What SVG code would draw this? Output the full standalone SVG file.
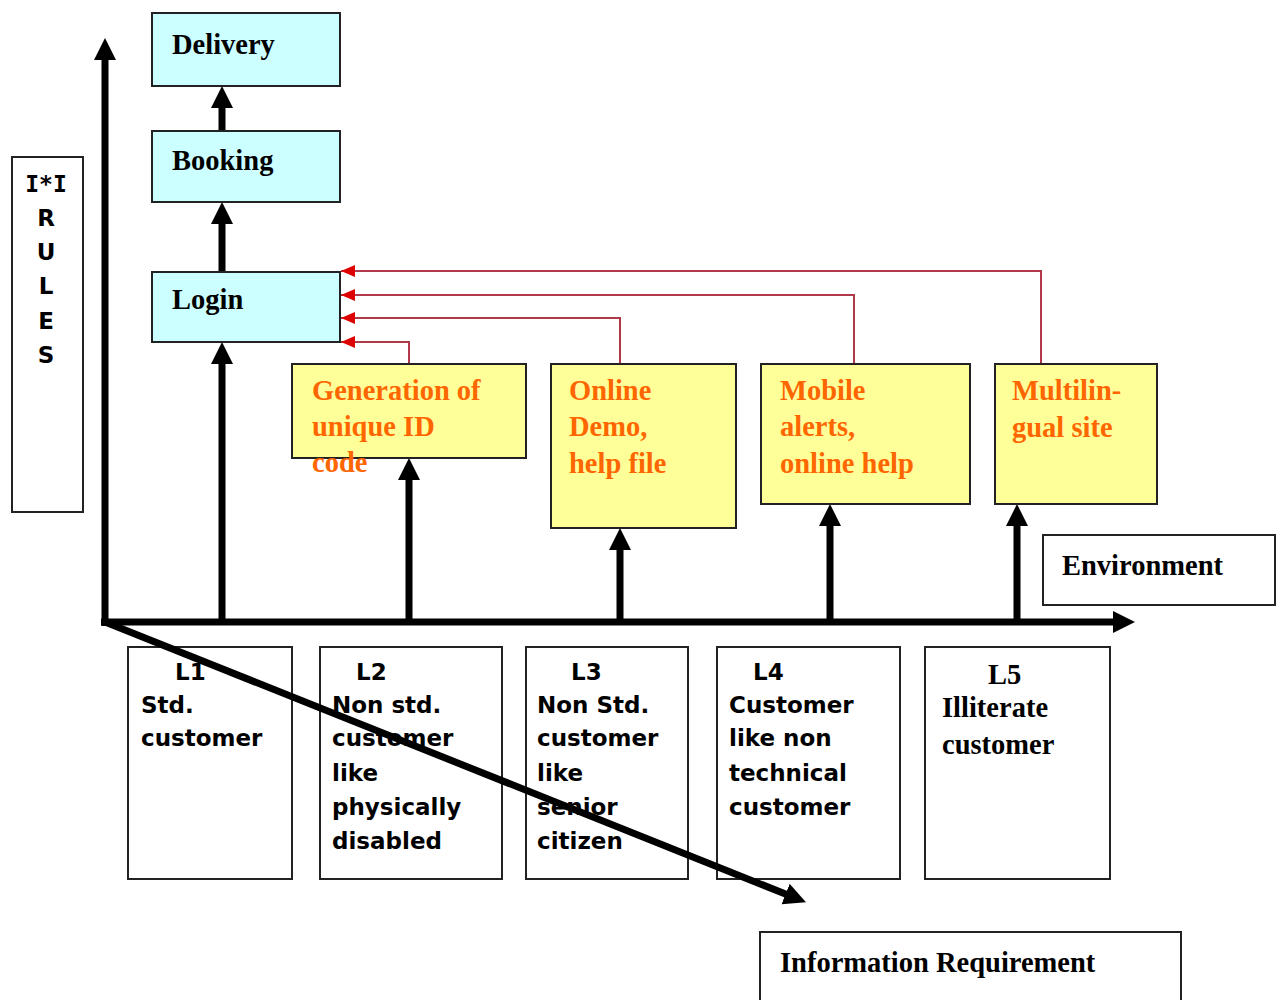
<svg xmlns="http://www.w3.org/2000/svg" width="1282" height="1000" viewBox="0 0 1282 1000">
<style>
.box{stroke:#222;stroke-width:2}
.cy{fill:#ccffff}
.ye{fill:#ffff99}
.wh{fill:#fff}
.ser{font-family:"Liberation Serif","Times New Roman",serif;font-weight:bold;font-size:28.5px;fill:#000}
.or{fill:#ff6600}
.san{font-family:"DejaVu Sans",Verdana,sans-serif;font-weight:bold;font-size:23px;fill:#000}
.mono{font-family:"DejaVu Sans Mono",monospace;font-weight:bold;font-size:23px;fill:#000}
.ax{stroke:#000;stroke-width:7;fill:none;marker-end:url(#blk)}
.red{stroke:#b03a4a;stroke-width:2;fill:none;marker-end:url(#rd)}
</style>
<defs>
<marker id="blk" markerUnits="userSpaceOnUse" markerWidth="24" markerHeight="24" refX="8" refY="11" orient="auto" viewBox="0 0 24 24">
<path d="M0,0 L22,11 L0,22 z" fill="#000"/>
</marker>
<marker id="rd" markerUnits="userSpaceOnUse" markerWidth="16" markerHeight="14" refX="14" refY="6" orient="auto" viewBox="0 0 16 14">
<path d="M0,0 L14,6 L0,12 z" fill="#dd0000"/>
</marker>
</defs>
<rect width="1282" height="1000" fill="#fff"/>

<g id="rules">
<rect class="box wh" x="12" y="157" width="71" height="355"/>
<text class="mono" x="46" y="192" text-anchor="middle">I*I</text>
<g class="san" text-anchor="middle">
<text x="46" y="226">R</text>
<text x="46" y="260">U</text>
<text x="46" y="294">L</text>
<text x="46" y="329">E</text>
<text x="46" y="363">S</text>
</g>
</g>

<g id="L1"><rect class="box wh" x="128" y="647" width="164" height="232"/>
<text class="san" x="175" y="680">L1</text>
<text class="san" x="141" y="713">Std.</text>
<text class="san" x="141" y="746">customer</text></g>

<g id="L2"><rect class="box wh" x="320" y="647" width="182" height="232"/>
<text class="san" x="356" y="680">L2</text>
<text class="san" x="332" y="713">Non std.</text>
<text class="san" x="332" y="746">customer</text>
<text class="san" x="332" y="781">like</text>
<text class="san" x="332" y="815">physically</text>
<text class="san" x="332" y="849">disabled</text></g>

<g id="L3"><rect class="box wh" x="526" y="647" width="162" height="232"/>
<text class="san" x="571" y="680">L3</text>
<text class="san" x="537" y="713">Non Std.</text>
<text class="san" x="537" y="746">customer</text>
<text class="san" x="537" y="781">like</text>
<text class="san" x="537" y="815">senior</text>
<text class="san" x="537" y="849">citizen</text></g>

<g id="L4"><rect class="box wh" x="717" y="647" width="183" height="232"/>
<text class="san" x="753" y="680">L4</text>
<text class="san" x="729" y="713">Customer</text>
<text class="san" x="729" y="746">like non</text>
<text class="san" x="729" y="781">technical</text>
<text class="san" x="729" y="815">customer</text></g>

<g id="L5"><rect class="box wh" x="925" y="647" width="185" height="232"/>
<text class="ser" x="988" y="684">L5</text>
<text class="ser" x="942" y="717">Illiterate</text>
<text class="ser" x="942" y="754">customer</text></g>

<g id="environment"><rect class="box wh" x="1043" y="535" width="232" height="70"/>
<text class="ser" x="1062" y="575">Environment</text></g>

<g id="info"><rect class="box wh" x="760" y="932" width="421" height="80"/>
<text class="ser" x="780" y="972">Information Requirement</text></g>

<g id="connectors">
<path class="ax" d="M105,626 V52"/>
<path class="ax" d="M101,622 H1121"/>
<path class="ax" d="M105,622 L793,897"/>
<path class="ax" d="M222,131 V100"/>
<path class="ax" d="M222,272 V216"/>
<path class="ax" d="M222,622 V356"/>
<path class="ax" d="M409,622 V472"/>
<path class="ax" d="M620,622 V542"/>
<path class="ax" d="M830,622 V518"/>
<path class="ax" d="M1017,622 V518"/>
<path class="red" d="M409,364 V342 H341"/>
<path class="red" d="M620,364 V318 H341"/>
<path class="red" d="M854,364 V295 H341"/>
<path class="red" d="M1041,364 V271 H341"/>
</g>

<g id="delivery"><rect class="box cy" x="152" y="13" width="188" height="73"/>
<text class="ser" x="172" y="54">Delivery</text></g>
<g id="booking"><rect class="box cy" x="152" y="131" width="188" height="71"/>
<text class="ser" x="172" y="170">Booking</text></g>
<g id="login"><rect class="box cy" x="152" y="272" width="188" height="70"/>
<text class="ser" x="172" y="309">Login</text></g>

<g id="generation"><rect class="box ye" x="292" y="364" width="234" height="94"/>
<text class="ser or" x="312" y="400">Generation of</text>
<text class="ser or" x="312" y="436">unique ID</text>
<text class="ser or" x="312" y="472">code</text></g>

<g id="demo"><rect class="box ye" x="551" y="364" width="185" height="164"/>
<text class="ser or" x="569" y="400">Online</text>
<text class="ser or" x="569" y="436">Demo,</text>
<text class="ser or" x="569" y="473">help file</text></g>

<g id="mobile"><rect class="box ye" x="761" y="364" width="209" height="140"/>
<text class="ser or" x="780" y="400">Mobile</text>
<text class="ser or" x="780" y="436">alerts,</text>
<text class="ser or" x="780" y="473">online help</text></g>

<g id="multilingual"><rect class="box ye" x="995" y="364" width="162" height="140"/>
<text class="ser or" x="1012" y="400">Multilin-</text>
<text class="ser or" x="1012" y="437">gual site</text></g>
</svg>
